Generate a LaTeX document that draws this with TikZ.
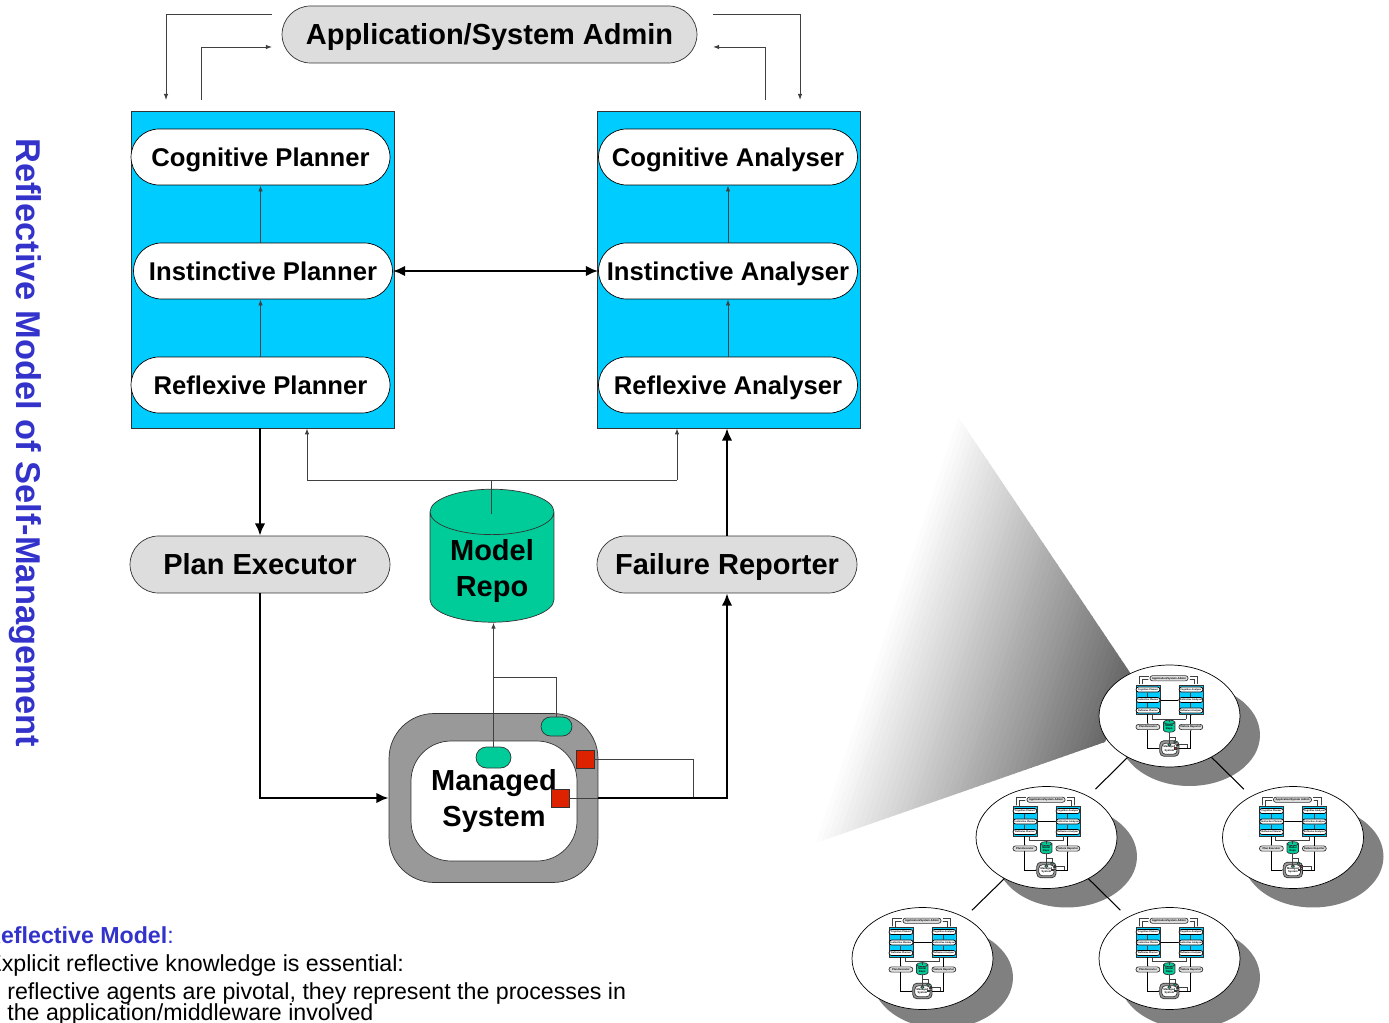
\documentclass[tikz,border=0pt]{standalone}
\usepackage{fontspec}
\setmainfont{Liberation Sans}
\usetikzlibrary{positioning, arrows.meta, shapes.misc, shapes.geometric, shadows}

\definecolor{layercyan}{HTML}{00CCFF}
\definecolor{repogreen}{HTML}{00CC99}
\definecolor{sensorred}{HTML}{DD2200}
\definecolor{rimgrey}{HTML}{999999}
\definecolor{actorgrey}{HTML}{DDDDDD}
\definecolor{titleblue}{HTML}{3333CC}

\newcommand\agentfont{\fontsize{14.6}{17}\selectfont\bfseries}
\newcommand\actorfont{\fontsize{16.5}{20}\selectfont\bfseries}
\newcommand\notefont{\fontsize{13.2}{15}\selectfont}
\newcommand\msscale{1}

\tikzset{
	link/.style={draw=black!75, line width=0.55pt},
	heavy/.style={draw=black, line width={max(0.5pt,1.6pt*\msscale)}},
	smalltip/.style={-{Latex[length=3.5pt,width=2.6pt,scale=\msscale]}},
	bigtip/.style={-{Latex[length=7pt,width=6pt,scale=\msscale]}},
	bothtips/.style={{Latex[length=7pt,width=6pt,scale=\msscale]}-{Latex[length=7pt,width=6pt,scale=\msscale]}},
	layer/.style={draw=black!80, fill=layercyan, minimum width=5.26cm, minimum height=6.34cm, inner sep=0pt},
	agent/.style={rounded rectangle, draw=black, fill=white, minimum width=5.18cm, minimum height=1.12cm, inner sep=0pt,
		text height=10.4pt, text depth=0pt, font=\agentfont},
	actor/.style={rounded rectangle, draw=black!80, fill=actorgrey, minimum width=5.2cm, minimum height=1.14cm, inner sep=0pt,
		text height=11.8pt, text depth=0pt, font=\actorfont},
	admin/.style={actor, minimum width=8.3cm},
	repo/.style={cylinder, shape border rotate=90, aspect=0.5, draw=black!80, fill=repogreen, minimum width=2.48cm, minimum height=2.66cm,
		inner sep=2pt, align=center, font=\actorfont},
	rim/.style={draw=black!80, fill=rimgrey, minimum width=4.18cm, minimum height=3.38cm, inner sep=0pt, rounded corners={0.9cm*\msscale}},
	core/.style={draw=black!80, fill=white, minimum width=3.32cm, minimum height=2.4cm, inner sep=0pt, rounded corners={0.8cm*\msscale}, align=center, font=\actorfont},
	probe/.style={rounded rectangle, draw=black!80, fill=repogreen, minimum width=0.7cm, minimum height=0.42cm, inner sep=0pt},
	sensor/.style={draw=black!80, fill=sensorred, minimum size=0.36cm, inner sep=0pt},
	headline/.style={text=titleblue, font=\fontsize{19.6}{22}\selectfont\bfseries, inner sep=0pt},
	note/.style={anchor=base west, inner sep=0pt, font=\notefont},
	bubble/.style={ellipse, draw=black, fill=white, minimum width=2.82cm, minimum height=2.04cm, inner sep=0pt,
		drop shadow={shadow xshift=0.4cm, shadow yshift=-0.38cm, fill=black!50, opacity=1}},
	branch/.style={draw=black, line width=0.6pt, shorten >=0.2cm},
	pics/selfmgmt/.style={code={
		\def\msscale{#1}
		\begin{scope}[scale=#1, shift={(-495,-445)}]
			\node[admin] (-adm) at (489.5,34.5) {Application/System Admin};
			\node[layer] (-plan) at (262.5,269.5) {};
			\node[layer] (-anal) at (728.5,269.5) {};
			\node[agent] (-cp) at (260.5,157) {Cognitive Planner};
			\node[agent] (-ip) at (263,271) {Instinctive Planner};
			\node[agent] (-rp) at (260.5,385) {Reflexive Planner};
			\node[agent] (-ca) at (728,157) {Cognitive Analyser};
			\node[agent] (-ia) at (728,271) {Instinctive Analyser};
			\node[agent] (-ra) at (728,385) {Reflexive Analyser};
			\node[actor] (-pe) at (260,564.5) {Plan Executor};
			\node[actor] (-fr) at (727,564.5) {Failure Reporter};
			\node[repo] (-repo) at (492,571) {Model\\Repo};
			\node[rim] (-rim) at (493.5,798) {};
			\node[core] (-ms) at (494,801) {Managed\\System};
			\node[probe] (-p1) at (493.5,757.5) {};
			\node[probe, minimum width=0.62cm, minimum height=0.38cm] (-p2) at (556.5,726.5) {};
			\node[sensor] (-s1) at (585,759.5) {};
			\node[sensor] (-s2) at (560,798) {};
			% admin feedback loops
			\coordinate (-a1) at (272,14);
			\coordinate (-a2) at (166,100);
			\coordinate (-a3) at (201,100);
			\coordinate (-a4) at (272,47);
			\coordinate (-a5) at (713,14);
			\coordinate (-a6) at (800,100);
			\coordinate (-a7) at (765,100);
			\coordinate (-a8) at (713,47);
			\draw[link, smalltip] (-a1) -| (-a2);
			\draw[link, smalltip] (-a3) |- (-a4);
			\draw[link, smalltip] (-a5) -| (-a6);
			\draw[link, smalltip] (-a7) |- (-a8);
			\draw[link, smalltip] (-rp.north |- -ip.north) -- (-rp.north |- -cp.south);
			\draw[link, smalltip] (-rp.north) -- (-rp.north |- -ip.south);
			\draw[link, smalltip] (-ra.north |- -ia.north) -- (-ra.north |- -ca.south);
			\draw[link, smalltip] (-ra.north) -- (-ra.north |- -ia.south);
			\draw[heavy, bothtips] (-ip.east) -- (-ia.west);
			\draw[heavy, bigtip] (-pe.north |- -plan.south) -- (-pe.north);
			\draw[heavy, bigtip] (-fr.north) -- (-fr.north |- -anal.south);
			% model repository feeds both layers
			\coordinate (-hub) at (491,514);
			\coordinate (-hubl) at (307,480);
			\coordinate (-hubr) at (677,480);
			\draw[link] (-hub) -- (-hub |- -hubl);
			\draw[link] (-hubl) -- (-hubr);
			\draw[link, smalltip] (-hubl) -- (-hubl |- -plan.south);
			\draw[link, smalltip] (-hubr) -- (-hubr |- -anal.south);
			\coordinate (-tap) at (493,677);
			\coordinate (-join) at (693,798);
			\draw[link, smalltip] (-p1.north) -- (-p1.north |- -repo.bottom);
			\draw[link] (-p2.north) |- (-tap);
			\draw[link] (-s1.east) -| (-join);
			\draw[link] (-s2.east) -- (-s2.east -| -rim.east);
			\draw[heavy, bigtip] (-s2.east -| -rim.east) -| (-fr.south);
			\draw[heavy, bigtip] (-pe.south) |- (-rim.west);
		\end{scope}
	}},
}

\begin{document}
\begin{tikzpicture}[x=0.02cm, y=-0.02cm]
	\useasboundingbox (0,0) rectangle (1389,1023);
	\clip (0,0) rectangle (1389,1023);

	% fading wedge towards the top of the hierarchy
	\begin{scope}
		\clip (955,412) -- (1135,680) -- (1105,742) -- (810,845) -- cycle;
		\begin{scope}[shift={(810,845)}, x={(0.01896cm,-0.00636cm)}, y={(0.00635cm,0.01896cm)}]
			\foreach \t in {0,5,...,270}
				\fill[black!\fpeval{min(62,62*\t/255)}] (\t,-100) -- (\t+6,-100) -- (\t+6,700) -- (\t,700) -- cycle;
		\end{scope}
	\end{scope}

	\pic[transform shape] (ms) at (495,445) {selfmgmt=1};

	\node[headline, rotate=-90] (heading) at (25,442.5) {Reflective Model of Self-Management};

	\node[note, text=titleblue] (note1) at (-16,943) {\textbf{Reflective Model}:};
	\node[note] (note2) at (-14,971) {Explicit reflective knowledge is essential:};
	\node[note] (note3) at (7,999) {reflective agents are pivotal, they represent the processes in};
	\node[note] (note4) at (7,1020) {the application/middleware involved};

	% hierarchy of self-managing systems
	\node[bubble] (t0) at (1169.5,716) {};
	\node[bubble] (t1) at (1046.5,837.5) {};
	\node[bubble] (t2) at (1293,837.5) {};
	\node[bubble] (t3) at (922.5,958.5) {};
	\node[bubble] (t4) at (1169.5,958.5) {};
	\foreach \n in {t0,t1,t2,t3,t4}
		\pic[transform shape] (\n-mini) at (\n) {selfmgmt=0.092};
	\draw[branch] (t0) -- (t1);
	\draw[branch] (t0) -- (t2);
	\draw[branch] (t1) -- (t3);
	\draw[branch] (t1) -- (t4);
\end{tikzpicture}
\end{document}
